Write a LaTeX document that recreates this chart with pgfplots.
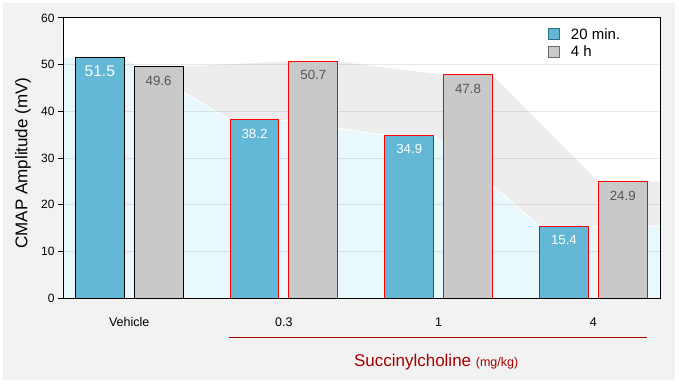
\documentclass[border=0pt]{standalone}
\usepackage{fontspec}
\setmainfont{Liberation Sans}
\usepackage{pgfplots}
\pgfplotsset{compat=1.18}
\definecolor{barblue}{RGB}{98,184,213}
\definecolor{bargray}{RGB}{201,201,201}
\definecolor{areacyan}{RGB}{232,248,252}
\definecolor{areagray}{RGB}{237,237,237}
\definecolor{bggray}{RGB}{242,242,242}
\definecolor{darkred}{RGB}{165,0,0}
\definecolor{legblue}{RGB}{45,110,130}
\definecolor{leggray}{RGB}{110,110,110}
\definecolor{labgray}{RGB}{85,85,85}
\newcommand\fs[1]{\fontsize{#1bp}{#1bp}\selectfont}
\begin{document}
\begin{tikzpicture}[x=1bp,y=1bp]
\useasboundingbox (0,0) rectangle (679,384);
\fill[white] (0,0) rectangle (679,384);
\fill[bggray] (3,4) rectangle (675,381);
\fill[white] (63,86) rectangle (660,366);
\begin{axis}[
  at={(63bp,86bp)}, anchor=south west,
  scale only axis, width=597bp, height=280bp,
  axis on top,
  xmin=-0.428, xmax=3.431, ymin=0, ymax=60,
  axis line style={line width=1bp, black},
  xtick={0,1,2,3}, xticklabels={Vehicle,0.3,1,4},
  x tick style={draw=none},
  ytick={0,10,20,30,40,50,60},
  ytick pos=left, tick align=outside, major tick length=5bp,
  y tick style={line width=1bp, black},
  /pgf/number format/assume math mode=true,
  tick label style={font=\fs{12}},
  xticklabel style={anchor=base, yshift=-23bp, font=\fs{12.5}},
  yticklabel style={anchor=east},
  ylabel={CMAP Amplitude (mV)},
  ylabel style={at={(axis description cs:-0.067,0.482)}, anchor=center, font=\fs{17}},
  xlabel={Succinylcholine {\fs{12.5}(mg/kg)}},
  xlabel style={at={(axis description cs:0.625,-0.243)}, anchor=base, font=\fs{17}, text=darkred},
  legend style={at={(axis description cs:0.812,0.97)}, anchor=north west, draw=none, fill=none, font=\fs{15}, row sep=1bp, column sep=9bp, inner sep=0pt},
  legend cell align=left,
  clip=false,
]
% background areas
\addplot[forget plot, fill=areagray, draw=none] coordinates {(-0.428,49.6) (0.348,49.6) (1.032,50.7) (1.348,50.7) (2.032,47.8) (2.348,47.8) (3.032,24.9) (3.431,24.9)} \closedcycle;
\addplot[forget plot, fill=areacyan, draw=white, line width=1bp] coordinates {(-0.428,51.5) (-0.032,51.5) (0.652,38.2) (0.968,38.2) (1.652,34.9) (1.968,34.9) (2.652,15.4) (3.431,15.4)} \closedcycle;
% grid lines
\addplot[forget plot, black, opacity=0.09, line width=1bp] coordinates {(-0.428,10) (3.431,10)};
\addplot[forget plot, black, opacity=0.09, line width=1bp] coordinates {(-0.428,20) (3.431,20)};
\addplot[forget plot, black, opacity=0.09, line width=1bp] coordinates {(-0.428,30) (3.431,30)};
\addplot[forget plot, black, opacity=0.09, line width=1bp] coordinates {(-0.428,40) (3.431,40)};
\addplot[forget plot, black, opacity=0.09, line width=1bp] coordinates {(-0.428,50) (3.431,50)};
% bars (20 min. at group-0.19, 4 h at group+0.19)
\addplot[forget plot, ybar, bar width=0.316, bar shift=0, fill=barblue, draw=black, line width=1bp,
  nodes near coords, every node near coord/.append style={anchor=center, yshift=-14bp, text=white, font=\fs{15.5}}]
  coordinates {(-0.19,51.5)};
\addplot[forget plot, ybar, bar width=0.316, bar shift=0, fill=barblue, draw=red, line width=1bp,
  nodes near coords, every node near coord/.append style={anchor=center, yshift=-14bp, text=white, font=\fs{13.3}}]
  coordinates {(0.81,38.2) (1.81,34.9) (2.81,15.4)};
\addplot[forget plot, ybar, bar width=0.316, bar shift=0, fill=bargray, draw=black, line width=1bp,
  nodes near coords, every node near coord/.append style={anchor=center, yshift=-14bp, text=labgray, font=\fs{13.3}}]
  coordinates {(0.19,49.6)};
\addplot[forget plot, ybar, bar width=0.316, bar shift=0, fill=bargray, draw=red, line width=1bp,
  nodes near coords, every node near coord/.append style={anchor=center, yshift=-14bp, text=labgray, font=\fs{13.3}}]
  coordinates {(1.19,50.7) (2.19,47.8) (3.19,24.9)};
% legend
\addlegendimage{legend image code/.code={\draw[fill=barblue,draw=legblue,line width=1bp] (0bp,-5bp) rectangle (11bp,6bp);}}
\addlegendentry{20 min.}
\addlegendimage{legend image code/.code={\draw[fill=bargray,draw=leggray,line width=1bp] (0bp,-5bp) rectangle (11bp,6bp);}}
\addlegendentry{4 h}
\end{axis}
\draw[darkred, line width=1bp] (229,46.5) -- (647,46.5);
\end{tikzpicture}
\end{document}
